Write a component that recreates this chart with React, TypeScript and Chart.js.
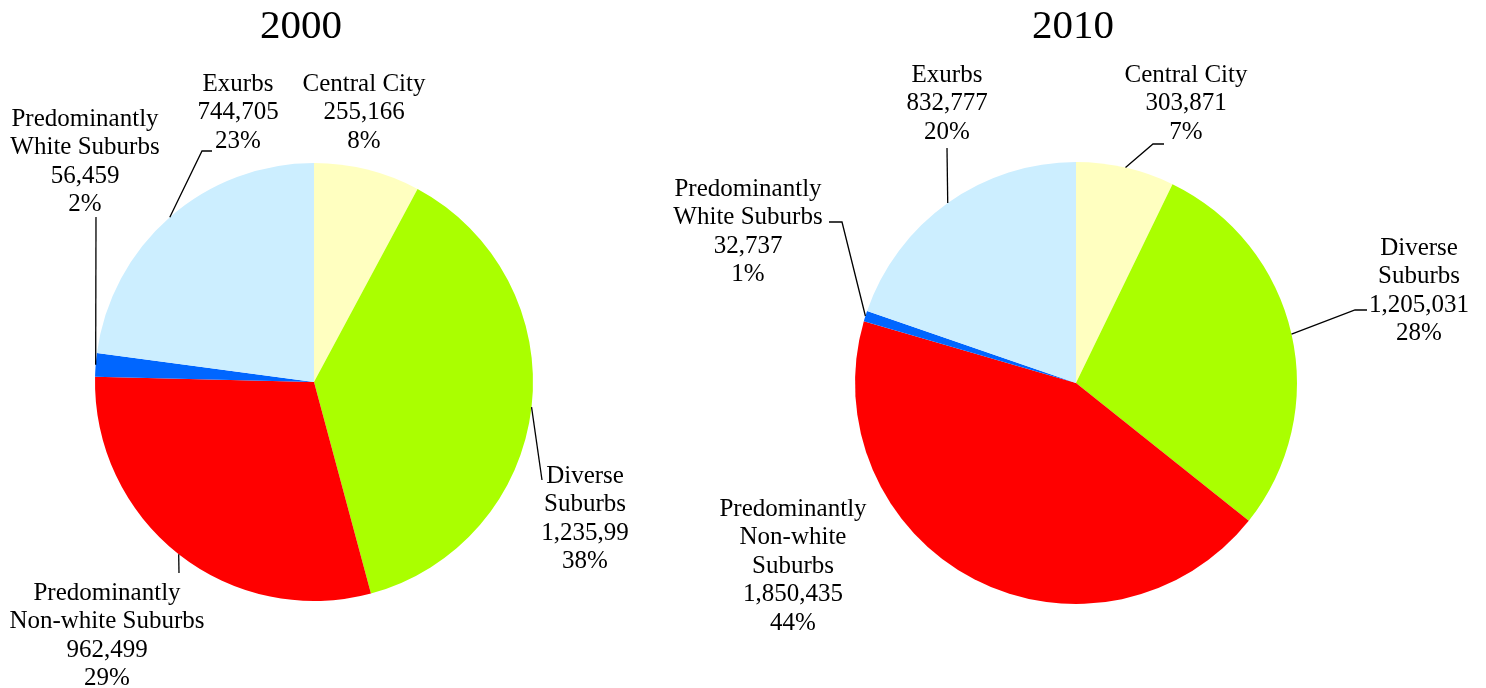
import React, { useEffect, useRef } from "react";
import { Chart, registerables } from "chart.js";

Chart.register(...registerables);

// ---------- data ----------
const categories = [
  "Central City",
  "Diverse Suburbs",
  "Predominantly Non-white Suburbs",
  "Predominantly White Suburbs",
  "Exurbs",
];
const values2000 = [255166, 1235990, 962499, 56459, 744705];
const values2010 = [303871, 1205031, 1850435, 32737, 832777];
// value labels as printed in the source (2000 Diverse label is cut off there)
const valueText2000 = ["255,166", "1,235,99", "962,499", "56,459", "744,705"];
const valueText2010 = ["303,871", "1,205,031", "1,850,435", "32,737", "832,777"];
const nameLines2000 = [
  ["Central City"],
  ["Diverse", "Suburbs"],
  ["Predominantly", "Non-white Suburbs"],
  ["Predominantly", "White Suburbs"],
  ["Exurbs"],
];
const nameLines2010 = [
  ["Central City"],
  ["Diverse", "Suburbs"],
  ["Predominantly", "Non-white", "Suburbs"],
  ["Predominantly", "White Suburbs"],
  ["Exurbs"],
];
const colors = ["#FFFFC0", "#AAFF00", "#FF0000", "#0066FF", "#CCEEFF"];

// ---------- layout (page pixels) ----------
type Pt = [number, number];
type LabelLayout = { x: number; y: number; leader?: Pt[] };
type PieLayout = {
  title: string;
  titleX: number;
  titleY: number;
  area: { left: number; top: number; right: number; bottom: number };
  labels: LabelLayout[];
};

const W = 1486;
const H = 688;
const FONT = "'Liberation Serif', 'Times New Roman', serif";
const LINE_H = 28.4;

const layout2000: PieLayout = {
  title: "2000",
  titleX: 301,
  titleY: 38,
  area: { left: 95, top: 163, right: 533, bottom: 601 },
  labels: [
    { x: 364, y: 91 },
    { x: 585, y: 483, leader: [[542, 480]] },
    { x: 107, y: 600, leader: [[179, 573]] },
    { x: 85, y: 126, leader: [[96, 217]] },
    { x: 238, y: 91, leader: [[202, 151], [212, 151]] },
  ],
};

const layout2010: PieLayout = {
  title: "2010",
  titleX: 1073,
  titleY: 38,
  area: { left: 855, top: 162, right: 1297, bottom: 604 },
  labels: [
    { x: 1186, y: 82, leader: [[1153, 144], [1164, 144]] },
    { x: 1419, y: 255, leader: [[1355, 310], [1367, 310]] },
    { x: 793, y: 516 },
    { x: 748, y: 196, leader: [[842, 222], [829, 222]] },
    { x: 947, y: 82, leader: [[947, 148]] },
  ],
};

// Excel-style percentages (largest remainder so they sum to 100)
function percents(vals: number[]): number[] {
  const total = vals.reduce((a, b) => a + b, 0);
  const raw = vals.map((v) => (v / total) * 100);
  const fl = raw.map((r) => Math.floor(r));
  let rest = 100 - fl.reduce((a, b) => a + b, 0);
  const order = raw
    .map((r, i) => ({ i, rem: r - Math.floor(r) }))
    .sort((a, b) => b.rem - a.rem);
  for (let k = 0; k < order.length && rest > 0; k++, rest--) fl[order[k].i] += 1;
  return fl;
}

function makeLabelPlugin(lay: PieLayout, names: string[][], valueText: string[], pcts: number[]) {
  return {
    id: "pieLabels" + lay.title,
    afterDraw(chart: any) {
      const ctx = chart.ctx as CanvasRenderingContext2D;
      const meta = chart.getDatasetMeta(0);
      ctx.save();
      ctx.fillStyle = "#000";
      ctx.strokeStyle = "#000";
      ctx.lineWidth = 1.3;
      ctx.textAlign = "center";
      ctx.textBaseline = "alphabetic";
      ctx.font = `41px ${FONT}`;
      ctx.fillText(lay.title, lay.titleX, lay.titleY);
      ctx.font = `25px ${FONT}`;
      meta.data.forEach((arc: any, i: number) => {
        const p = arc.getProps(["x", "y", "startAngle", "endAngle", "outerRadius"], true);
        const mid = (p.startAngle + p.endAngle) / 2;
        const sx = p.x + Math.cos(mid) * p.outerRadius;
        const sy = p.y + Math.sin(mid) * p.outerRadius;
        const l = lay.labels[i];
        if (l.leader) {
          ctx.beginPath();
          ctx.moveTo(sx, sy);
          l.leader.forEach(([x, y]) => ctx.lineTo(x, y));
          ctx.stroke();
        }
        const lines = [...names[i], valueText[i], pcts[i] + "%"];
        lines.forEach((t, k) => ctx.fillText(t, l.x, l.y + k * LINE_H));
      });
      ctx.restore();
    },
  };
}

function PieCanvas(props: {
  values: number[];
  lay: PieLayout;
  names: string[][];
  valueText: string[];
}) {
  const ref = useRef<HTMLCanvasElement | null>(null);
  useEffect(() => {
    if (!ref.current) return;
    const { values, lay, names, valueText } = props;
    const pcts = percents(values);
    const chart = new Chart(ref.current, {
      type: "pie",
      data: {
        labels: categories,
        datasets: [
          {
            data: values,
            backgroundColor: colors,
            borderWidth: 0,
          },
        ],
      },
      options: {
        responsive: false,
        animation: false,
        events: [],
        layout: {
          padding: {
            left: lay.area.left,
            top: lay.area.top,
            right: W - lay.area.right,
            bottom: H - lay.area.bottom,
          },
        },
        plugins: {
          legend: { display: false },
          title: { display: false },
          tooltip: { enabled: false },
        },
      },
      plugins: [makeLabelPlugin(lay, names, valueText, pcts)],
    });
    return () => chart.destroy();
  }, []);
  return (
    <canvas
      ref={ref}
      width={W}
      height={H}
      style={{ position: "absolute", left: 0, top: 0, width: W, height: H }}
    />
  );
}

export default function App() {
  return (
    <div
      style={{
        position: "fixed",
        left: 0,
        top: 0,
        width: W,
        height: H,
        background: "#fff",
        overflow: "hidden",
      }}
    >
      <PieCanvas values={values2000} lay={layout2000} names={nameLines2000} valueText={valueText2000} />
      <PieCanvas values={values2010} lay={layout2010} names={nameLines2010} valueText={valueText2010} />
    </div>
  );
}
